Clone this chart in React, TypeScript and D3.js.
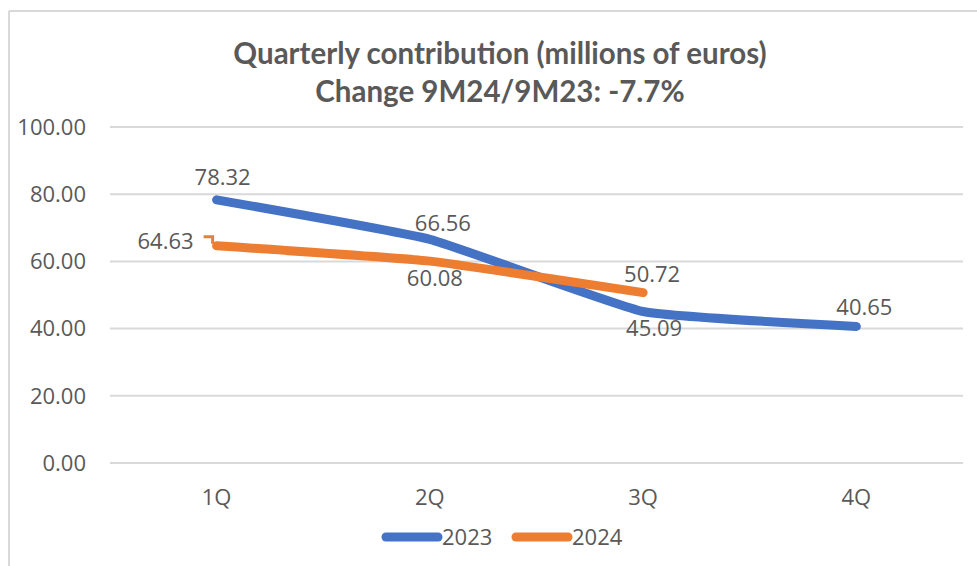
import React from "react";
import * as d3 from "d3";

const categories = ["1Q", "2Q", "3Q", "4Q"];
const values2023 = [78.32, 66.56, 45.09, 40.65];
const values2024 = [64.63, 60.08, 50.72];
const yTicks = [0, 20, 40, 60, 80, 100];
const seriesNames = ["2023", "2024"];
const titleLines = ["Quarterly contribution (millions of euros)", "Change 9M24/9M23: -7.7%"];

const W = 977;
const H = 566;
const BLUE = "#4472C4";
const ORANGE = "#ED7D31";
const TXT = "#595959";
const FONT = "'Open Sans', 'Noto Sans', sans-serif";
const FS = 22;

export default function App() {
  const x = d3.scaleBand().domain(categories).range([110, 963]);
  const y = d3.scaleLinear().domain([0, 100]).range([463, 127]);
  const cx = (c: string) => (x(c) as number) + x.bandwidth() / 2;
  const line = d3
    .line<number>()
    .x((_, i) => cx(categories[i]))
    .y((d) => y(d))
    .curve(d3.curveCardinal.tension(0.65));

  // label offsets per point: [dx, dy, anchor]
  const lab2023: [number, number, string][] = [
    [6, -23, "middle"],
    [13, -16, "middle"],
    [11, 17, "middle"],
    [8, -19, "middle"],
  ];
  const lab2024: [number, number, string][] = [
    [-23, -5, "end"],
    [5, 17, "middle"],
    [9, -18, "middle"],
  ];

  const p0x = cx(categories[0]);
  const p0y = y(values2024[0]);

  return (
    <svg width={W} height={H} style={{ display: "block", position: "absolute", left: 0, top: 0 }}>
      <rect x={0} y={0} width={W} height={H} fill="#fff" />
      <line x1={9} x2={977} y1={11} y2={11} stroke="#d9d9d9" strokeWidth={2} />
      <line x1={9} x2={9} y1={11} y2={566} stroke="#d9d9d9" strokeWidth={2} />
      {titleLines.map((t, i) => (
        <text
          key={t}
          x={500}
          y={64 + i * 38}
          textAnchor="middle"
          fill={TXT}
          fontFamily="'Lato', 'Roboto', sans-serif"
          fontWeight="bold"
          fontSize={29.5}
        >
          {t}
        </text>
      ))}
      {yTicks.map((t) => (
        <g key={t}>
          <line x1={110} x2={963} y1={y(t)} y2={y(t)} stroke="#d9d9d9" strokeWidth={2} />
          <text x={86} y={y(t)} dy="0.35em" textAnchor="end" fill={TXT} fontFamily={FONT} fontSize={FS}>
            {t.toFixed(2)}
          </text>
        </g>
      ))}
      {categories.map((c) => (
        <text key={c} x={cx(c)} y={497} dy="0.35em" textAnchor="middle" fill={TXT} fontFamily={FONT} fontSize={FS}>
          {c}
        </text>
      ))}
      <path d={line(values2023) || ""} fill="none" stroke={BLUE} strokeWidth={9} strokeLinecap="round" strokeLinejoin="round" />
      <path d={line(values2024) || ""} fill="none" stroke={ORANGE} strokeWidth={9} strokeLinecap="round" strokeLinejoin="round" />
      <path
        d={`M${p0x - 13},${p0y - 9} H${p0x - 4} V${p0y - 2}`}
        fill="none"
        stroke={ORANGE}
        strokeWidth={3}
      />
      {values2023.map((v, i) => (
        <text
          key={"a" + i}
          x={cx(categories[i]) + lab2023[i][0]}
          y={y(v) + lab2023[i][1]}
          dy="0.35em"
          textAnchor={lab2023[i][2] as any}
          fill={TXT}
          fontFamily={FONT}
          fontSize={FS}
        >
          {v.toFixed(2)}
        </text>
      ))}
      {values2024.map((v, i) => (
        <text
          key={"b" + i}
          x={cx(categories[i]) + lab2024[i][0]}
          y={y(v) + lab2024[i][1]}
          dy="0.35em"
          textAnchor={lab2024[i][2] as any}
          fill={TXT}
          fontFamily={FONT}
          fontSize={FS}
        >
          {v.toFixed(2)}
        </text>
      ))}
      {seriesNames.map((s, i) => (
        <g key={s} transform={`translate(${382 + i * 130},537)`}>
          <line x1={4} x2={56} y1={0} y2={0} stroke={i === 0 ? BLUE : ORANGE} strokeWidth={9} strokeLinecap="round" />
          <text x={60} y={0} dy="0.35em" fill={TXT} fontFamily={FONT} fontSize={FS}>
            {s}
          </text>
        </g>
      ))}
    </svg>
  );
}
